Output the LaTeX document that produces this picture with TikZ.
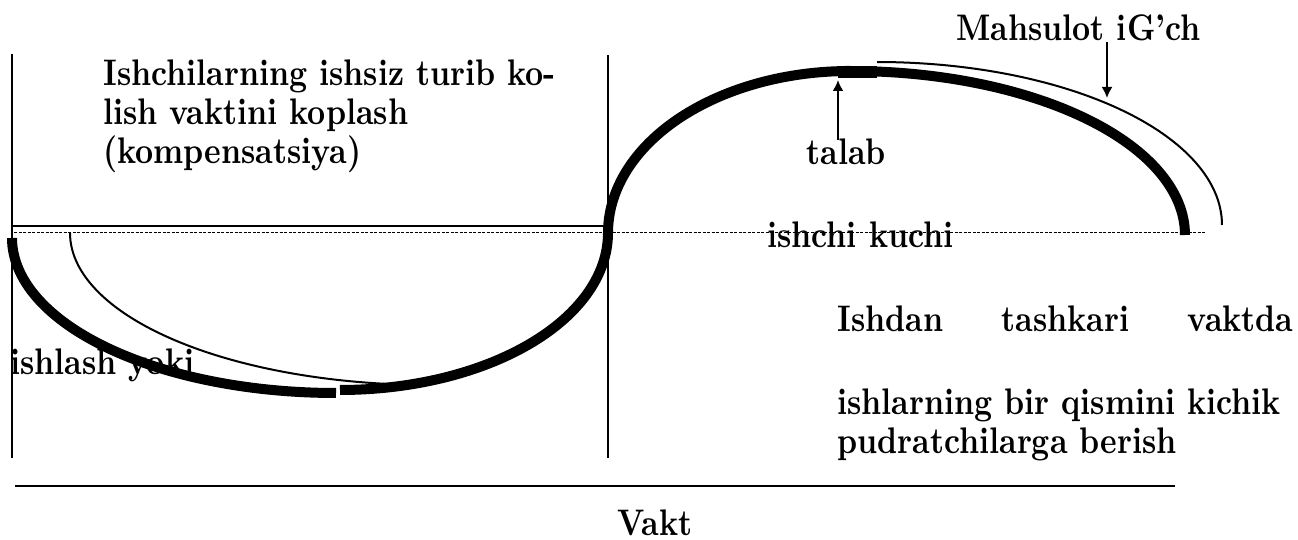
\documentclass[tikz,border=0pt]{standalone}
\usepackage{fontspec}
\newfontfamily\lblfont{lmroman10-bold.otf}[FakeStretch=0.85]
\usetikzlibrary{arrows.meta}
\begin{document}
\begin{tikzpicture}[x=0.5pt,y=-0.5pt,
  heavy/.style={line width=5pt},
  light/.style={line width=1pt},
  axisline/.style={line width=1pt},
  guide/.style={line width=0.5pt, dash pattern=on 1.5pt off 0.75pt},
  lbl/.style={inner sep=0pt, anchor=base west, font=\lblfont\fontsize{18.5}{22}\selectfont},
  pointer/.style={line width=1pt, -{Latex[length=5.5pt,width=5.5pt]}}]
\useasboundingbox (0,0) rectangle (1298,540);

% texts
\node[lbl] (t1) at (103,86) {Ishchilarning ishsiz turib ko-};
\node[lbl] (t2) at (103,125) {lish vaktini koplash};
\node[lbl] (t3) at (103,164) {(kompensatsiya)};
\node[lbl] (talab) at (806,165) {talab};
\node[lbl] (mahs) at (956,41) {Mahsulot iG’ch};
\node[lbl] (kuch) at (767,248) {ishchi kuchi};
\node[lbl] (yoki) at (10,374) {ishlash yoki};
\node[lbl] (r1) at (837,332) {\makebox[228pt][s]{Ishdan\hfill tashkari\hfill vaktda}};
\node[lbl] (r2) at (837,415) {ishlarning bir qismini kichik};
\node[lbl] (r3) at (837,453) {pudratchilarga berish};
\node[lbl] (vakt) at (617,535) {Vakt};

% frame lines
\coordinate (LT) at (12,54);  \coordinate (LB) at (12,458);
\coordinate (MT) at (608,55); \coordinate (MB) at (608,458);
\coordinate (HL) at (12,226); \coordinate (HR) at (608,226);
\coordinate (DL) at (14,233); \coordinate (DR) at (1205,233);
\coordinate (BL) at (15,486); \coordinate (BR) at (1175,486);
\draw[axisline] (LT) -- (LB);
\draw[axisline] (MT) -- (MB);
\draw[axisline] (HL) -- (HR);
\draw[guide] (DL) -- (DR);
\draw[axisline] (BL) -- (BR);

% thin curves
\draw[light] plot[domain=180:90, samples=60, smooth] ({430+360*cos(\x)},{233+152*sin(\x)});
\draw[light] plot[domain=270:360, samples=60, smooth] ({877+345*cos(\x)},{225+163*sin(\x)});

% thick curves
\draw[heavy] plot[domain=180:90, samples=60, smooth] ({336+324*cos(\x)},{238+155*sin(\x)});
\draw[heavy] plot[domain=90:0, samples=50, smooth] ({340+268*cos(\x)},{233+157*sin(\x)})
  -- plot[domain=180:270, samples=50, smooth] ({850+242*cos(\x)},{233+162*sin(\x)})
  -- plot[domain=270:360, samples=60, smooth] ({850+335*cos(\x)},{235+164*sin(\x)});
\coordinate (S1) at (838,72); \coordinate (S2) at (877,72);
\draw[line width=6pt] (S1) -- (S2);

% arrows
\coordinate (TA1) at (838,140); \coordinate (TA2) at (838,80);
\coordinate (MA1) at (1107,42); \coordinate (MA2) at (1107,98);
\draw[pointer] (TA1) -- (TA2);
\draw[pointer] (MA1) -- (MA2);
\end{tikzpicture}
\end{document}
